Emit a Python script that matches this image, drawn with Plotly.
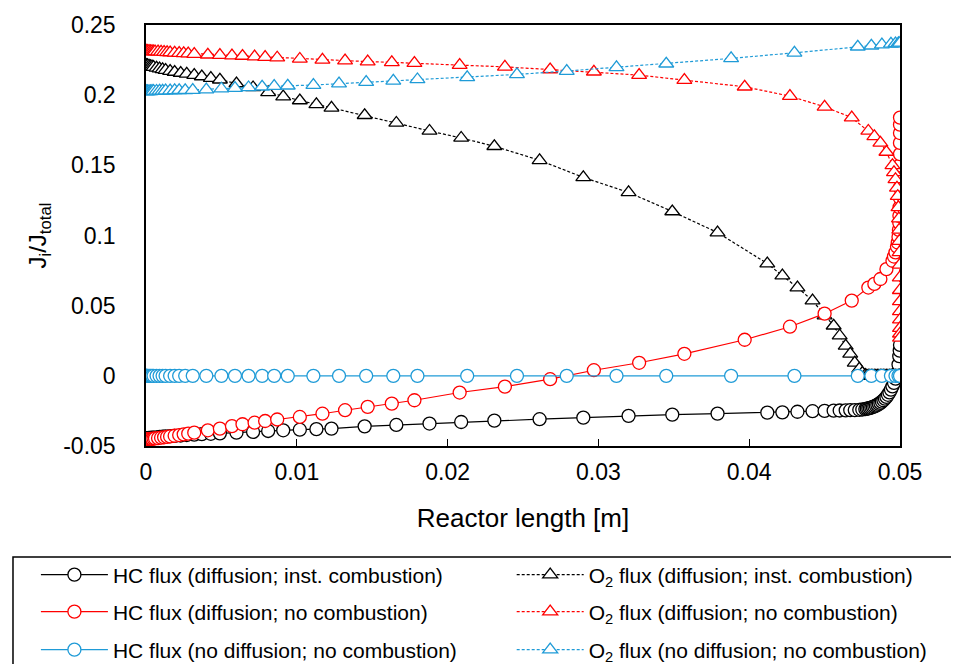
import plotly.graph_objects as go

# malha e valores (difusão; combustão instantânea)
bk_x = [0, 0.00005, 0.0001, 0.0002, 0.0003, 0.0004, 0.0005, 0.0007, 0.0009, 0.0011,
        0.0013, 0.0016, 0.0019, 0.0023, 0.0027, 0.0032, 0.0037, 0.0043, 0.0049,
        0.0060, 0.0071, 0.0081, 0.0091, 0.0102, 0.0113, 0.0123, 0.0145, 0.0166, 0.0188,
        0.0209, 0.0231, 0.0261, 0.0290, 0.0320, 0.0349, 0.0379,
        0.0412, 0.0422, 0.0432, 0.0442, 0.0450, 0.0456, 0.0460, 0.0464, 0.0467, 0.0470,
        0.0473, 0.0475, 0.0477, 0.0478,
        0.0479, 0.0480, 0.0481, 0.0482, 0.0483, 0.0484, 0.0485, 0.0486, 0.0487, 0.0488,
        0.0489, 0.0490, 0.0491, 0.0492, 0.0493, 0.0494, 0.0495, 0.0496, 0.0497, 0.0498,
        0.0499, 0.04995, 0.04998, 0.0500]
bk_hc = [-0.0445, -0.0445, -0.0444, -0.0443, -0.0442, -0.0441, -0.0440, -0.0438, -0.0436, -0.0434,
         -0.0432, -0.0430, -0.0428, -0.0425, -0.0422, -0.0419, -0.0416, -0.0413, -0.0410,
         -0.0405, -0.0400, -0.0393, -0.0388, -0.0384, -0.0380, -0.0376, -0.0360, -0.0350, -0.0340,
         -0.0329, -0.0319, -0.0309, -0.0298, -0.0285, -0.0276, -0.0269,
         -0.0262, -0.0260, -0.0256, -0.0252, -0.0250, -0.0248, -0.0247, -0.0246, -0.0245, -0.0244,
         -0.0242, -0.0240, -0.0237, -0.0234,
         -0.0232, -0.0229, -0.0226, -0.0222, -0.0218, -0.0213, -0.0207, -0.0200, -0.0193, -0.0184,
         -0.0174, -0.0163, -0.0150, -0.0135, -0.0118, -0.0098, -0.0075, -0.0050, -0.0020, 0.0020,
         0.0080, 0.0140, 0.0180, 0.0220]
bk_o2 = [0.2215, 0.2213, 0.2212, 0.2209, 0.2206, 0.2203, 0.2200, 0.2195, 0.2189, 0.2184,
         0.2179, 0.2172, 0.2165, 0.2158, 0.2152, 0.2143, 0.2133, 0.2122, 0.2110,
         0.2083, 0.2055, 0.2020, 0.1990, 0.1962, 0.1935, 0.1909, 0.1857, 0.1802, 0.1745,
         0.1695, 0.1636, 0.1536, 0.1414, 0.1307, 0.1171, 0.1021,
         0.0800, 0.0714, 0.0629, 0.0536, 0.0429, 0.0357, 0.0286, 0.0214, 0.0157, 0.0093,
         0.0050, 0.0020, 0.0005, 0.0,
         0.0, 0.0, 0.0, 0.0, 0.0, 0.0, 0.0, 0.0, 0.0, 0.0,
         0.0, 0.0, 0.0, 0.0, 0.0, 0.0, 0.0, 0.0, 0.0, 0.0,
         0.0, 0.0, 0.0, 0.0]

# difusão; sem combustão
rd_x = [0, 0.00005, 0.0001, 0.0002, 0.0003, 0.0004, 0.0005, 0.0006, 0.0008, 0.0010,
        0.0012, 0.0014, 0.0016, 0.0019, 0.0022, 0.0025, 0.0028, 0.0032,
        0.0041, 0.0049, 0.0057, 0.0064, 0.0072, 0.0079, 0.0087, 0.0102, 0.0117, 0.0132,
        0.0147, 0.0163, 0.0178, 0.0208, 0.0238, 0.0268, 0.0297, 0.0327, 0.0357, 0.0397,
        0.0427, 0.0450, 0.0468, 0.0479, 0.0483, 0.0487, 0.0491,
        0.0495, 0.0496, 0.0497, 0.0498, 0.04985, 0.0499, 0.04993, 0.04995, 0.04996, 0.04997,
        0.04998, 0.049985, 0.04999, 0.049993, 0.049995, 0.049997, 0.049998, 0.049999, 0.0500]
rd_hc = [-0.0453, -0.0452, -0.0452, -0.0451, -0.0450, -0.0449, -0.0447, -0.0446, -0.0444, -0.0441,
         -0.0438, -0.0435, -0.0432, -0.0427, -0.0422, -0.0417, -0.0412, -0.0405,
         -0.0388, -0.0376, -0.0358, -0.0345, -0.0334, -0.0322, -0.0311, -0.0293, -0.0270, -0.0245,
         -0.0221, -0.0198, -0.0174, -0.0119, -0.0077, -0.0024, 0.0040, 0.0093, 0.0157, 0.0257,
         0.0350, 0.0443, 0.0536, 0.0629, 0.0655, 0.0690, 0.0760,
         0.0820, 0.0850, 0.0880, 0.0920, 0.0950, 0.0990, 0.1040, 0.1090, 0.1140, 0.1200,
         0.1270, 0.1340, 0.1420, 0.1500, 0.1580, 0.1660, 0.1730, 0.1790, 0.1840]
rd_o2 = [0.2315, 0.2315, 0.2314, 0.2314, 0.2313, 0.2312, 0.2311, 0.2311, 0.2310, 0.2308,
         0.2307, 0.2305, 0.2304, 0.2302, 0.2300, 0.2298, 0.2296, 0.2293,
         0.2288, 0.2285, 0.2282, 0.2279, 0.2275, 0.2271, 0.2267, 0.2258, 0.2251, 0.2246,
         0.2239, 0.2234, 0.2229, 0.2214, 0.2202, 0.2183, 0.2167, 0.2143, 0.2107, 0.2060,
         0.1993, 0.1917, 0.1840, 0.1745, 0.1707, 0.1660, 0.1595,
         0.1500, 0.1450, 0.1400, 0.1340, 0.1280, 0.1200, 0.1120, 0.1040, 0.0960, 0.0880,
         0.0790, 0.0700, 0.0610, 0.0530, 0.0460, 0.0400, 0.0340, 0.0300, 0.0270]

# sem difusão; sem combustão
bl_x = [0, 0.00005, 0.0001, 0.0002, 0.0003, 0.0004, 0.0005, 0.0007, 0.0009, 0.0011,
        0.0013, 0.0016, 0.0019, 0.0022, 0.0026,
        0.0031, 0.0040, 0.0050, 0.0059, 0.0068, 0.0077, 0.0085, 0.0094, 0.0111, 0.0128,
        0.0146, 0.0164, 0.0180, 0.0213, 0.0246, 0.0279, 0.0312, 0.0345, 0.0388, 0.0430,
        0.0472, 0.0481, 0.0488, 0.0494, 0.0497, 0.0499, 0.0500]
bl_hc = [0, 0, 0, 0, 0, 0, 0, 0, 0, 0,
         0, 0, 0, 0, 0,
         0, 0, 0, 0, 0, 0, 0, 0, 0, 0,
         0, 0, 0, 0, 0, 0, 0, 0, 0, 0,
         0, 0, 0, 0, 0, 0, 0]
bl_o2 = [0.2027, 0.2027, 0.2027, 0.2028, 0.2028, 0.2029, 0.2029, 0.2030, 0.2031, 0.2031,
         0.2032, 0.2033, 0.2034, 0.2035, 0.2035,
         0.2036, 0.2040, 0.2046, 0.2050, 0.2055, 0.2060, 0.2064, 0.2067, 0.2072, 0.2082,
         0.2093, 0.2102, 0.2112, 0.2127, 0.2148, 0.2172, 0.2198, 0.2224, 0.2262, 0.2302,
         0.2345, 0.2352, 0.2360, 0.2365, 0.2368, 0.2370, 0.2372]

y_ticks = [-0.05, 0, 0.05, 0.1, 0.15, 0.2, 0.25]
y_labels = ['-0.05', '0', '0.05', '0.1', '0.15', '0.2', '0.25']
x_ticks = [0, 0.01, 0.02, 0.03, 0.04, 0.05]
x_labels = ['0', '0.01', '0.02', '0.03', '0.04', '0.05']

PRETO = '#000000'
VERMELHO = '#ff0000'
AZUL = '#1f9bd7'
FONTE = 'Arial, Liberation Sans, sans-serif'

series = [
    (bk_x, bk_hc, 'HC flux (diffusion; inst. combustion)', PRETO, 'circle', 'solid'),
    (bk_x, bk_o2, 'O<sub>2</sub> flux (diffusion; inst. combustion)', PRETO, 'triangle-up', '3px,2px'),
    (rd_x, rd_hc, 'HC flux (diffusion; no combustion)', VERMELHO, 'circle', 'solid'),
    (rd_x, rd_o2, 'O<sub>2</sub> flux (diffusion; no combustion)', VERMELHO, 'triangle-up', '3px,2px'),
    (bl_x, bl_hc, 'HC flux (no diffusion; no combustion)', AZUL, 'circle', 'solid'),
    (bl_x, bl_o2, 'O<sub>2</sub> flux (no diffusion; no combustion)', AZUL, 'triangle-up', '3px,2px'),
]

fig = go.Figure()
for i, (x, y, nome, cor, simbolo, traco) in enumerate(series):
    fig.add_trace(go.Scatter(
        x=x, y=y, name=nome, mode='lines+markers',
        line=dict(color=cor, width=1.2, dash=traco),
        marker=dict(symbol=simbolo, size=13, color='white', line=dict(color=cor, width=1.3)),
        legend='legend' if i == 0 else 'legend%d' % (i + 1),
    ))

# uma legenda por entrada (2 colunas x 3 linhas), com moldura única
col_x = [-0.146, 0.485]
row_y = [-0.3064, -0.3943, -0.4846]
legs = {}
for i in range(6):
    chave = 'legend' if i == 0 else 'legend%d' % (i + 1)
    legs[chave] = dict(orientation='h', xanchor='left', yanchor='middle',
                       x=col_x[i % 2], y=row_y[i // 2],
                       bgcolor='rgba(0,0,0,0)', borderwidth=0,
                       font=dict(family=FONTE, size=21, color='black'),
                       itemwidth=67)
fig.update_layout(**legs)
fig.add_shape(type='rect', xref='paper', yref='paper',
              x0=-0.1764, x1=1.0995, y0=-0.5558, y1=-0.2637,
              line=dict(color='black', width=1.5), fillcolor='rgba(0,0,0,0)')

fig.update_xaxes(range=[0, 0.05], tickvals=x_ticks, ticktext=x_labels,
                 showline=True, linecolor='black', linewidth=1.5, mirror=True,
                 ticks='inside', ticklen=7, tickcolor='black', tickwidth=1,
                 ticklabelstandoff=5,
                 showgrid=False, zeroline=False, layer='below traces',
                 tickfont=dict(family=FONTE, size=23, color='black'),
                 title=dict(text='Reactor length [m]', standoff=24,
                            font=dict(family=FONTE, size=26, color='black')))
fig.update_yaxes(range=[-0.05, 0.25], tickvals=y_ticks, ticktext=y_labels,
                 showline=True, linecolor='black', linewidth=1.5, mirror=True,
                 ticks='', ticklabelstandoff=24,
                 showgrid=False, zeroline=False, layer='below traces',
                 tickfont=dict(family=FONTE, size=23, color='black'),
                 title=dict(text='J<sub>i</sub>/J<sub>total</sub>', standoff=10,
                            font=dict(family=FONTE, size=24, color='black')))

# a página tem 8 px de margem no corpo: figura deslocada
fig.update_layout(
    width=951, height=656,
    margin=dict(l=138, r=59, t=17, b=218, autoexpand=False),
    plot_bgcolor='white', paper_bgcolor='white',
    showlegend=True,
)

fig.write_html('out.html')
